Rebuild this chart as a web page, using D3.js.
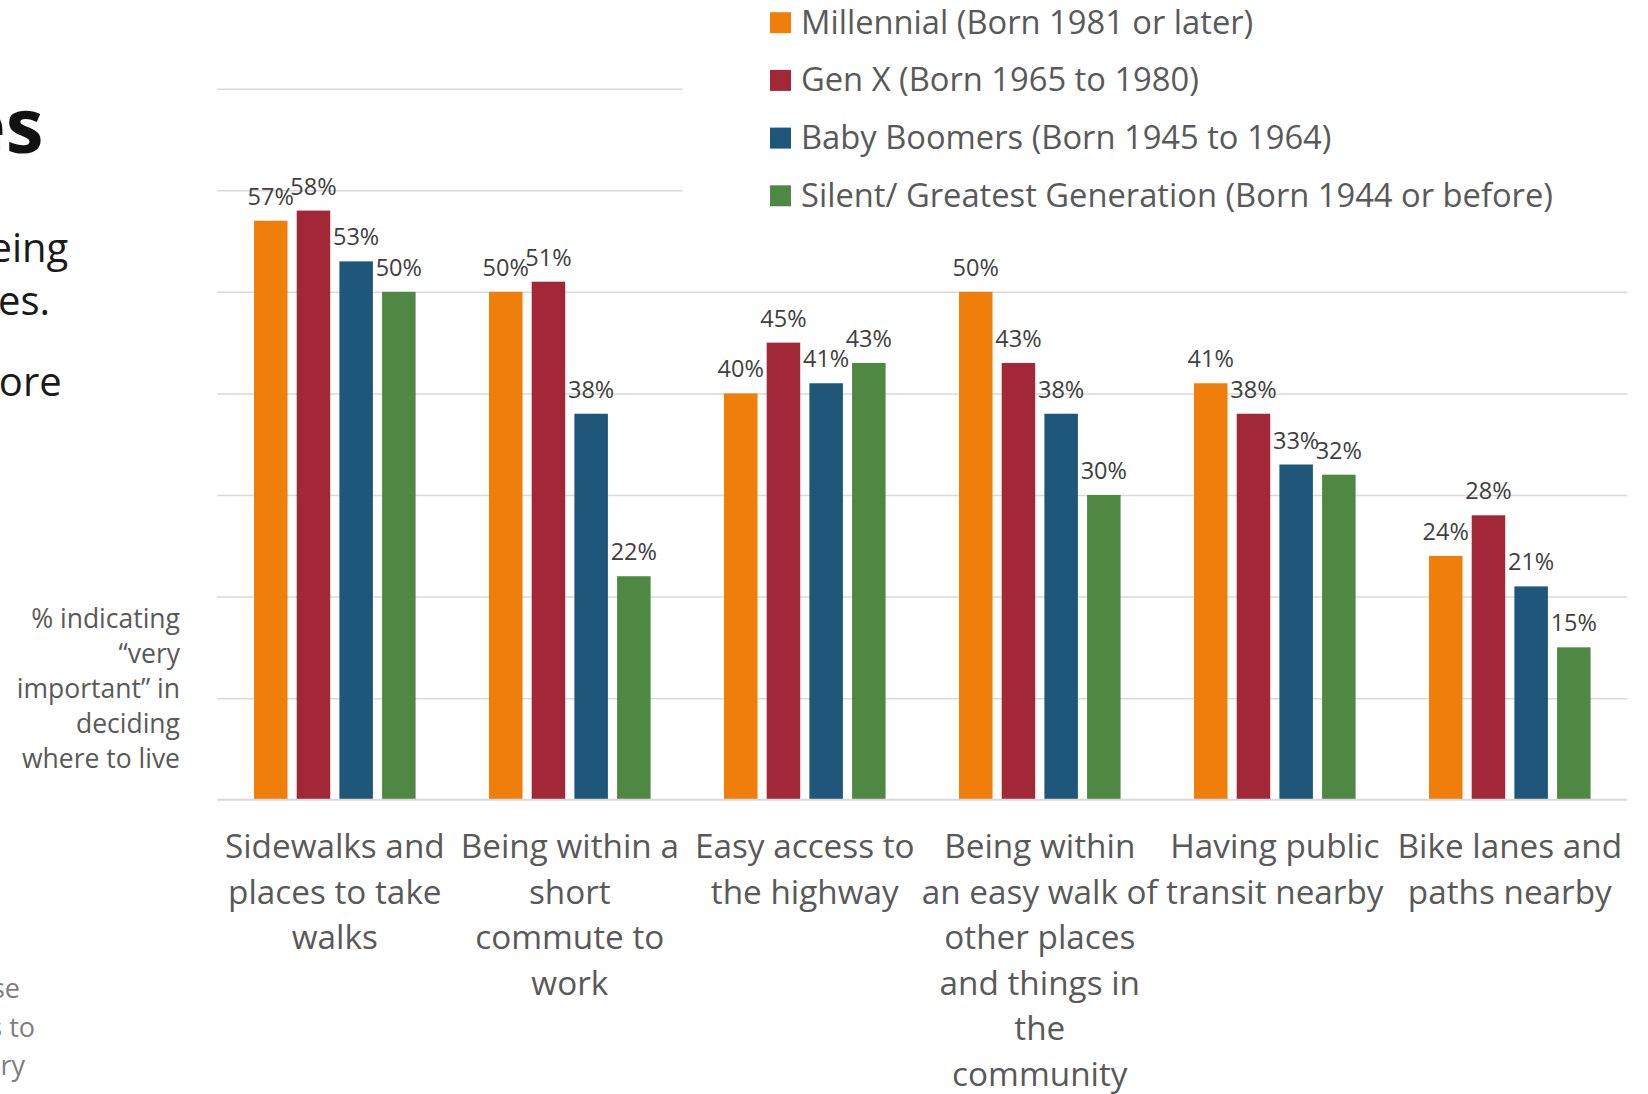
<!DOCTYPE html>
<html>
<head>
<meta charset="utf-8">
<script src="https://cdn.jsdelivr.net/npm/d3@7"></script>
<style>
  html, body { margin: 0; padding: 0; background: #fff; overflow: hidden; }
  svg { display: block; }
</style>
</head>
<body>
<svg id="chart" width="1648" height="1094"></svg>
<script>
// ---- data ----
const categories = [
  "Sidewalks and places to take walks",
  "Being within a short commute to work",
  "Easy access to the highway",
  "Being within an easy walk of other places and things in the community",
  "Having public transit nearby",
  "Bike lanes and paths nearby"
];
const categoryLines = [
  ["Sidewalks and", "places to take", "walks"],
  ["Being within a", "short", "commute to", "work"],
  ["Easy access to", "the highway"],
  ["Being within", "an easy walk of", "other places", "and things in", "the", "community"],
  ["Having public", "transit nearby"],
  ["Bike lanes and", "paths nearby"]
];
const seriesNames = [
  "Millennial (Born 1981 or later)",
  "Gen X (Born 1965 to 1980)",
  "Baby Boomers (Born 1945 to 1964)",
  "Silent/ Greatest Generation (Born 1944 or before)"
];
const millennial = [57, 50, 40, 50, 41, 24];
const genX       = [58, 51, 45, 43, 38, 28];
const boomers    = [53, 38, 41, 38, 33, 21];
const silent     = [50, 22, 43, 30, 32, 15];
const seriesValues = [millennial, genX, boomers, silent];
const seriesColors = ["#EF7F0A", "#A22737", "#1E577A", "#4F8843"];
const yTicks = [0, 10, 20, 30, 40, 50, 60, 70];
const yAxisTitle = ["% indicating", "\u201Cvery", "important\u201D in", "deciding", "where to live"];

// ---- layout ----
const svg = d3.select("#chart");
const plotLeft = 217.3, plotRight = 1627.3, plotTop = 88.7, plotBottom = 799.7;
const FONT = "'Open Sans', 'Noto Sans', sans-serif";

const x0 = d3.scaleBand().domain(categories).range([plotLeft, plotRight]).padding(0);
const x1 = d3.scaleBand().domain(seriesNames).range([0, x0.bandwidth()])
  .paddingInner(0.215).paddingOuter(0.86);
const y = d3.scaleLinear().domain([0, 70]).range([plotBottom, plotTop]);

// left clipped slide text fragments
const frag = svg.append("g").attr("font-family", FONT);
frag.append("text").attr("x", 43.5).attr("y", 153).attr("text-anchor", "end")
  .attr("font-size", 76).attr("font-weight", 700).attr("fill", "#111").text("es");
[["eing", 68.3, 262], ["es.", 50, 315], ["ore", 61.7, 396]].forEach(d => {
  frag.append("text").attr("x", d[1]).attr("y", d[2]).attr("text-anchor", "end")
    .attr("font-size", 40).attr("fill", "#1a1a1a").text(d[0]);
});
[["se", 20, 998], ["s to", 35, 1037], ["ry", 25, 1075]].forEach(d => {
  frag.append("text").attr("x", d[1]).attr("y", d[2]).attr("text-anchor", "end")
    .attr("font-size", 27).attr("fill", "#7f7f7f").text(d[0]);
});

// gridlines
const grid = svg.append("g").attr("transform", `translate(${plotLeft},0)`)
  .call(d3.axisLeft(y).tickValues(yTicks.slice(1)).tickSize(-(plotRight - plotLeft)).tickFormat(""));
grid.select(".domain").remove();
grid.selectAll(".tick line").attr("stroke", "#d9d9d9").attr("stroke-width", 1.5);

// legend background (covers upper gridlines)
svg.append("rect").attr("x", 683).attr("y", 0).attr("width", 1648 - 683).attr("height", 225).attr("fill", "#fff");

// bars
const groups = svg.append("g").selectAll("g").data(categories).join("g")
  .attr("transform", c => `translate(${x0(c)},0)`);
groups.each(function (c, ci) {
  const g = d3.select(this);
  seriesNames.forEach((s, si) => {
    const v = seriesValues[si][ci];
    g.append("rect")
      .attr("x", x1(s)).attr("width", x1.bandwidth())
      .attr("y", y(v)).attr("height", y(0) - y(v))
      .attr("fill", seriesColors[si]);
    g.append("text")
      .attr("x", x1(s) + x1.bandwidth() / 2).attr("y", y(v) - 16)
      .attr("text-anchor", "middle").attr("font-family", FONT)
      .attr("font-size", 23.5).attr("fill", "#404040")
      .text(v + "%");
  });
});

// x axis line
svg.append("line").attr("x1", plotLeft).attr("x2", plotRight)
  .attr("y1", y(0)).attr("y2", y(0)).attr("stroke", "#d9d9d9").attr("stroke-width", 2);

// category labels
const catG = svg.append("g").attr("font-family", FONT).attr("font-size", 33.3).attr("fill", "#595959");
categories.forEach((c, ci) => {
  const t = catG.append("text").attr("text-anchor", "middle")
    .attr("x", x0(c) + x0.bandwidth() / 2).attr("y", 858);
  categoryLines[ci].forEach((ln, li) => {
    t.append("tspan").attr("x", x0(c) + x0.bandwidth() / 2).attr("y", 858 + li * 45.5).text(ln);
  });
});

// y axis title
const yt = svg.append("text").attr("font-family", FONT).attr("font-size", 26.5)
  .attr("fill", "#595959").attr("text-anchor", "end");
yAxisTitle.forEach((ln, i) => {
  yt.append("tspan").attr("x", 180).attr("y", 628 + i * 35).text(ln);
});

// legend
const leg = svg.append("g").attr("font-family", FONT);
seriesNames.forEach((s, i) => {
  const cy = 22.7 + i * 57.7;
  leg.append("rect").attr("x", 770).attr("y", cy - 10.5).attr("width", 21).attr("height", 21)
    .attr("fill", seriesColors[i]);
  leg.append("text").attr("x", 801).attr("y", cy + 11).attr("font-size", 32.7)
    .attr("fill", "#595959").text(s);
});
</script>
</body>
</html>
